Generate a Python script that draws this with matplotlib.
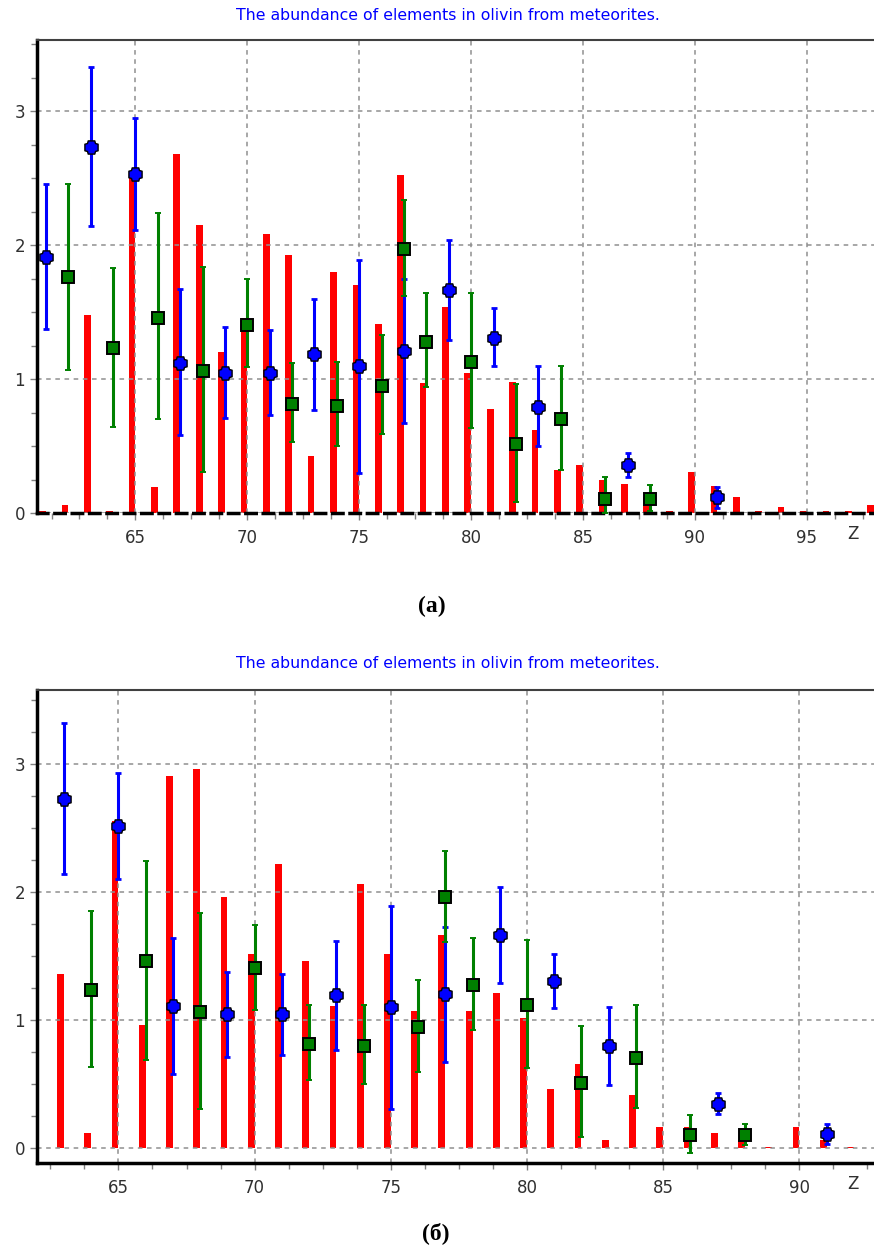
import numpy as np
import matplotlib
matplotlib.use("Agg")
import matplotlib.pyplot as plt
from matplotlib.ticker import MultipleLocator
from matplotlib.path import Path

# ---- panel (a) data ----
z_bars_a = list(range(61, 99))
bars_a = [0.02, 0.06, 1.48, 0.02, 2.53, 0.20, 2.68, 2.15, 1.20, 1.46,
          2.08, 1.93, 0.43, 1.80, 1.70, 1.41, 2.52, 0.97, 1.54, 1.045,
          0.78, 0.98, 0.62, 0.32, 0.36, 0.25, 0.22, 0.12, 0.015, 0.305,
          0.205, 0.12, 0.02, 0.05, 0.015, 0.02, 0.02, 0.065]

z_blue_a = [61, 63, 65, 67, 69, 71, 73, 75, 77, 79, 81, 83, 87, 91]
blue_a = [1.915, 2.73, 2.53, 1.124, 1.05, 1.05, 1.19, 1.10, 1.21, 1.667, 1.31, 0.795, 0.36, 0.12]
blue_hi_a = [2.457, 3.325, 2.95, 1.67, 1.39, 1.37, 1.60, 1.89, 1.75, 2.04, 1.53, 1.10, 0.45, 0.20]
blue_lo_a = [1.375, 2.14, 2.11, 0.584, 0.71, 0.73, 0.77, 0.30, 0.67, 1.29, 1.10, 0.50, 0.27, 0.04]

z_green_a = [62, 64, 66, 68, 70, 72, 74, 76, 77, 78, 80, 82, 84, 86, 88]
green_a = [1.76, 1.23, 1.455, 1.064, 1.405, 0.816, 0.80, 0.95, 1.97, 1.28, 1.13, 0.515, 0.70, 0.11, 0.11]
green_hi_a = [2.457, 1.83, 2.24, 1.84, 1.746, 1.12, 1.127, 1.33, 2.34, 1.64, 1.64, 0.965, 1.10, 0.27, 0.21]
green_lo_a = [1.07, 0.646, 0.70, 0.31, 1.09, 0.535, 0.50, 0.59, 1.62, 0.94, 0.64, 0.084, 0.32, 0.0, 0.02]

# ---- panel (б) data ----
z_bars_b = list(range(63, 93))
bars_b = [1.358, 0.12, 2.555, 0.965, 2.91, 2.966, 1.963, 1.515, 2.216, 1.462,
          1.11, 2.06, 1.52, 1.07, 1.663, 1.07, 1.215, 1.017, 0.464, 0.66,
          0.065, 0.412, 0.16, 0.16, 0.12, 0.065, 0.01, 0.16, 0.065, 0.01]

z_blue_b = [63, 65, 67, 69, 71, 73, 75, 77, 79, 81, 83, 87, 91]
blue_b = [2.729, 2.518, 1.11, 1.045, 1.045, 1.194, 1.098, 1.202, 1.663, 1.306, 0.798, 0.347, 0.112]
blue_hi_b = [3.323, 2.927, 1.642, 1.376, 1.363, 1.616, 1.89, 1.728, 2.036, 1.52, 1.098, 0.43, 0.19]
blue_lo_b = [2.138, 2.106, 0.58, 0.712, 0.725, 0.769, 0.308, 0.673, 1.293, 1.095, 0.49, 0.263, 0.03]

z_green_b = [64, 66, 68, 70, 72, 74, 76, 77, 78, 80, 82, 84, 86, 88]
green_b = [1.233, 1.46, 1.063, 1.41, 0.811, 0.798, 0.946, 1.958, 1.277, 1.121, 0.511, 0.707, 0.104, 0.104]
green_hi_b = [1.853, 2.24, 1.837, 1.746, 1.116, 1.116, 1.311, 2.322, 1.642, 1.629, 0.954, 1.116, 0.256, 0.19]
green_lo_b = [0.633, 0.69, 0.308, 1.082, 0.53, 0.503, 0.594, 1.611, 0.925, 0.626, 0.086, 0.316, -0.04, 0.026]

title = "The abundance of elements in olivin from meteorites."

# fat cross marker (like the original blobs with small notches)
blob_verts = [(0.5, 0.25), (0.3, 0.3), (0.25, 0.5), (-0.25, 0.5), (-0.3, 0.3), (-0.5, 0.25),
              (-0.5, -0.25), (-0.3, -0.3), (-0.25, -0.5), (0.25, -0.5), (0.3, -0.3), (0.5, -0.25),
              (0.5, 0.25)]
blob = Path(blob_verts, closed=True)


def draw_panel(ax, zb, bars, bar_w, zbl, bl, bl_hi, bl_lo, zg, gr, gr_hi, gr_lo, xlim, ylim, dashed_bottom):
    # red bars sit just left of the integer Z
    ax.bar(np.array(zb) - bar_w / 2, bars, width=bar_w, color="#ff0000", zorder=1)

    bl = np.array(bl)
    gr = np.array(gr)
    ax.errorbar(zbl, bl, yerr=[bl - np.array(bl_lo), np.array(bl_hi) - bl], fmt="none",
                ecolor="#0000ff", elinewidth=2.2, capsize=2.5, capthick=2, zorder=3)
    ax.plot(zbl, bl, linestyle="none", marker=blob, ms=9.5, mfc="#0000ff", mec="black",
            mew=1.0, zorder=5)
    ax.errorbar(zg, gr, yerr=[gr - np.array(gr_lo), np.array(gr_hi) - gr], fmt="s",
                color="#008000", ms=8.5, mfc="#008000", mec="black", mew=1.4,
                elinewidth=2.2, capsize=2.5, capthick=2, zorder=3)

    ax.set_xlim(*xlim)
    ax.set_ylim(*ylim)
    ax.xaxis.set_major_locator(MultipleLocator(5))
    ax.xaxis.set_minor_locator(MultipleLocator(1.25))
    ax.yaxis.set_major_locator(MultipleLocator(1))
    ax.yaxis.set_minor_locator(MultipleLocator(0.25))

    ax.set_axisbelow("line")
    ax.grid(True, which="major", color="#909090", linestyle=(0, (3, 3)), linewidth=1.1)

    ax.tick_params(which="both", direction="out", color="#808080", labelcolor="#303030", labelsize=12)
    ax.tick_params(which="major", length=5, width=1)
    ax.tick_params(which="minor", length=4, width=1)
    ax.tick_params(axis="x", pad=6)

    ax.spines["right"].set_visible(False)
    ax.spines["top"].set_color("#404040")
    ax.spines["top"].set_linewidth(1.5)
    ax.spines["left"].set_color("black")
    ax.spines["left"].set_linewidth(2.5)
    ax.spines["bottom"].set_color("black")
    ax.spines["bottom"].set_linewidth(2.5)
    if dashed_bottom:
        ax.spines["bottom"].set_linestyle((0, (3, 2)))


fig = plt.figure(figsize=(8.74, 12.49), dpi=100)

ax1 = fig.add_axes([0.0423, 0.589, 0.9577, 0.379])
draw_panel(ax1, z_bars_a, bars_a, 0.3, z_blue_a, blue_a, blue_hi_a, blue_lo_a,
           z_green_a, green_a, green_hi_a, green_lo_a, (60.6, 98.0), (0, 3.53), True)

ax2 = fig.add_axes([0.042, 0.0686, 0.958, 0.379])
draw_panel(ax2, z_bars_b, bars_b, 0.25, z_blue_b, blue_b, blue_hi_b, blue_lo_b,
           z_green_b, green_b, green_hi_b, green_lo_b, (62.0, 92.74), (-0.12, 3.58), False)

# titles, axis names and captions
fig.text(448 / 874, 1 - 16 / 1249, title, color="#0000ff", fontsize=11.3, ha="center", va="center")
fig.text(448 / 874, 1 - 664 / 1249, title, color="#0000ff", fontsize=11.3, ha="center", va="center")
fig.text(853 / 874, 1 - 534 / 1249, "Z", color="#303030", fontsize=12, ha="center", va="center")
fig.text(853 / 874, 1 - 1184 / 1249, "Z", color="#303030", fontsize=12, ha="center", va="center")
fig.text(432 / 874, 1 - 606 / 1249, "(а)", fontsize=17, fontweight="bold",
         family="Liberation Serif", ha="center", va="center")
fig.text(436 / 874, 1 - 1233 / 1249, "(б)", fontsize=17, fontweight="bold",
         family="Liberation Serif", ha="center", va="center")

fig.savefig("out.png", dpi=100)
